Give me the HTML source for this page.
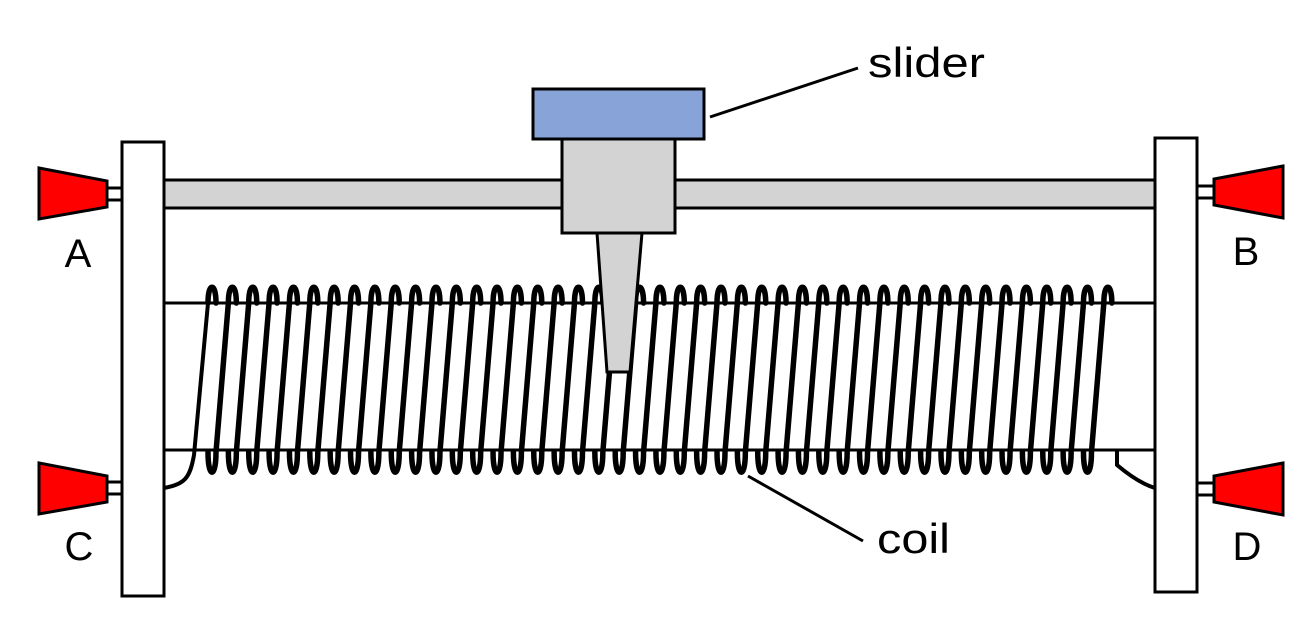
<!DOCTYPE html>
<html><head><meta charset="utf-8"><style>html,body{margin:0;padding:0;background:#fff}svg{display:block}</style></head>
<body>
<svg width="1309" height="638" viewBox="0 0 1309 638" xmlns="http://www.w3.org/2000/svg">
<defs>
<path id="t" d="M-4,303 C-4,282 4,282 4,303 M-4,452 C-4,479 4,479 4,452 L16.36,303" fill="none" stroke="#000" stroke-width="5.5" stroke-linecap="round"/>
</defs>
<rect x="164" y="180" width="991" height="28" fill="#d3d3d3" stroke="#000" stroke-width="3"/>
<line x1="164" y1="303" x2="1155" y2="303" stroke="#000" stroke-width="3"/>
<line x1="164" y1="450" x2="1155" y2="450" stroke="#000" stroke-width="3"/>
<g transform="translate(212,0)">
<use href="#t" x="0"/><use href="#t" x="20.36"/><use href="#t" x="40.72"/><use href="#t" x="61.08"/><use href="#t" x="81.44"/><use href="#t" x="101.8"/><use href="#t" x="122.16"/><use href="#t" x="142.52"/><use href="#t" x="162.88"/><use href="#t" x="183.24"/><use href="#t" x="203.6"/><use href="#t" x="223.96"/><use href="#t" x="244.32"/><use href="#t" x="264.68"/><use href="#t" x="285.04"/><use href="#t" x="305.4"/><use href="#t" x="325.76"/><use href="#t" x="346.12"/><use href="#t" x="366.48"/><use href="#t" x="386.84"/><use href="#t" x="407.2"/><use href="#t" x="427.56"/><use href="#t" x="447.92"/><use href="#t" x="468.28"/><use href="#t" x="488.64"/><use href="#t" x="509"/><use href="#t" x="529.36"/><use href="#t" x="549.72"/><use href="#t" x="570.08"/><use href="#t" x="590.44"/><use href="#t" x="610.8"/><use href="#t" x="631.16"/><use href="#t" x="651.52"/><use href="#t" x="671.88"/><use href="#t" x="692.24"/><use href="#t" x="712.6"/><use href="#t" x="732.96"/><use href="#t" x="753.32"/><use href="#t" x="773.68"/><use href="#t" x="794.04"/><use href="#t" x="814.4"/><use href="#t" x="834.76"/><use href="#t" x="855.12"/><use href="#t" x="875.48"/>
<path d="M891.84,303 C891.84,282 899.84,282 899.84,303" fill="none" stroke="#000" stroke-width="5.5" stroke-linecap="round"/>
</g>
<path d="M164,488 C185,484 190,478 194,455 L208,303" fill="none" stroke="#000" stroke-width="4"/>
<path d="M1117,450 L1117,465 C1130,476 1142,484 1155,488" fill="none" stroke="#000" stroke-width="4"/>
<rect x="122" y="142" width="42" height="454" fill="#fff" stroke="#000" stroke-width="3"/>
<rect x="1155" y="138" width="42" height="454" fill="#fff" stroke="#000" stroke-width="3"/>
<g stroke="#000" stroke-width="3">
<rect x="107" y="188" width="15" height="12" fill="#fff"/>
<polygon points="39,168 107,181 107,207 39,219" fill="#f00"/>
<rect x="107" y="482" width="15" height="12" fill="#fff"/>
<polygon points="39,463 107,476 107,502 39,514" fill="#f00"/>
<rect x="1197" y="186" width="17" height="12" fill="#fff"/>
<polygon points="1283,166 1214,179 1214,205 1283,218" fill="#f00"/>
<rect x="1197" y="483" width="17" height="12" fill="#fff"/>
<polygon points="1283,463 1214,476 1214,502 1283,515" fill="#f00"/>
</g>
<rect x="562" y="139" width="113" height="94" fill="#d3d3d3" stroke="#000" stroke-width="3"/>
<polygon points="597,233 642,233 630,372 607,372" fill="#d3d3d3" stroke="#000" stroke-width="3"/>
<rect x="533" y="89" width="171" height="50" fill="#87a3d8" stroke="#000" stroke-width="3"/>
<line x1="710" y1="117" x2="858" y2="68" stroke="#000" stroke-width="3"/>
<line x1="748" y1="476" x2="863" y2="541" stroke="#000" stroke-width="3"/>
<g font-family="Liberation Sans, sans-serif" font-size="40" fill="#000">
<text x="78" y="267" text-anchor="middle">A</text>
<text x="1246" y="265" text-anchor="middle">B</text>
<text x="79" y="560" text-anchor="middle">C</text>
<text x="1247" y="560" text-anchor="middle">D</text>
<text x="868" y="77" font-size="42" textLength="117" lengthAdjust="spacingAndGlyphs">slider</text>
<text x="877" y="553" font-size="42" textLength="73" lengthAdjust="spacingAndGlyphs">coil</text>
</g>
</svg>
</body></html>
